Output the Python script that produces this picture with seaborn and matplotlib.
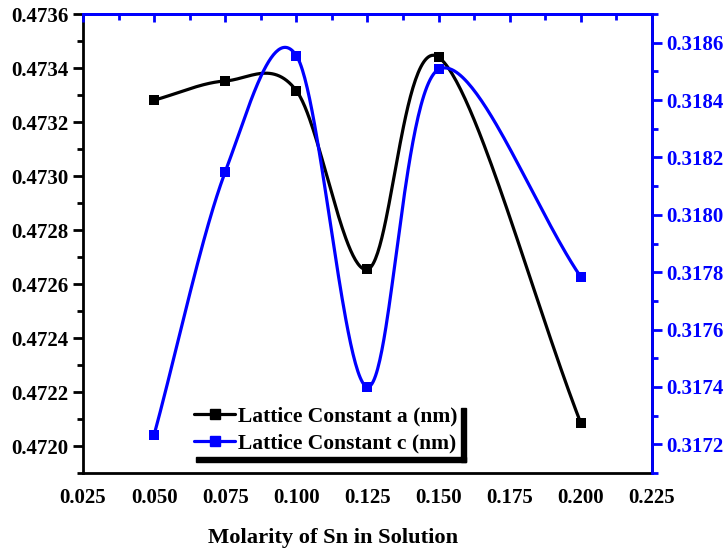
import numpy as np
import matplotlib
matplotlib.use("Agg")
import matplotlib.pyplot as plt
import seaborn as sns
from matplotlib.lines import Line2D
from matplotlib.patches import Rectangle
from matplotlib.ticker import MultipleLocator, FormatStrFormatter

molarity = [0.050, 0.075, 0.100, 0.125, 0.150, 0.200]
lattice_a = [0.473281, 0.473352, 0.473316, 0.472654, 0.473440, 0.472084]
lattice_c = [0.317233, 0.318150, 0.318555, 0.317400, 0.318507, 0.317783]
label_a = "Lattice Constant a (nm)"
label_c = "Lattice Constant c (nm)"
xlabel = "Molarity of Sn in Solution"

XLIM = (0.025, 0.225)
YLIM_A = (0.4719, 0.4736)
YLIM_C = (0.3171, 0.3187)
AX_W, AX_H = 569.0, 459.0


def smooth_curve(x, y, ylim, n=60):
    # Catmull-Rom style smooth connection drawn in screen space, mapped back to data
    u = (np.asarray(x, float) - XLIM[0]) / (XLIM[1] - XLIM[0]) * AX_W
    v = (np.asarray(y, float) - ylim[0]) / (ylim[1] - ylim[0]) * AX_H
    P = np.column_stack([u, v])
    k = len(P)
    m = np.zeros_like(P)
    m[0] = P[1] - P[0]
    m[-1] = P[-1] - P[-2]
    for i in range(1, k - 1):
        m[i] = (P[i + 1] - P[i - 1]) / 2
    s = np.linspace(0, 1, n)[:, None]
    h00 = 2 * s**3 - 3 * s**2 + 1
    h10 = s**3 - 2 * s**2 + s
    h01 = -2 * s**3 + 3 * s**2
    h11 = s**3 - s**2
    segs = [h00 * P[i] + h10 * m[i] + h01 * P[i + 1] + h11 * m[i + 1] for i in range(k - 1)]
    C = np.vstack(segs)
    xs = XLIM[0] + C[:, 0] / AX_W * (XLIM[1] - XLIM[0])
    ys = ylim[0] + C[:, 1] / AX_H * (ylim[1] - ylim[0])
    return xs, ys


sns.set_theme(style="white")
plt.rcParams["font.family"] = ["Liberation Serif", "DejaVu Serif"]
plt.rcParams["font.weight"] = "bold"
plt.rcParams["text.color"] = "black"
plt.rcParams["axes.labelcolor"] = "black"

fig = plt.figure(figsize=(7.28, 5.54), dpi=100)
ax = fig.add_axes([0.114, 0.1462, 0.7816, 0.8285])
ax2 = ax.twinx()

xa, ya = smooth_curve(molarity, lattice_a, YLIM_A)
ax.plot(xa, ya, color="black", lw=2.3, zorder=3)
sns.scatterplot(x=molarity, y=lattice_a, ax=ax, color="black", marker="s", s=60, edgecolor="black", linewidth=0, zorder=4)
xc, yc = smooth_curve(molarity, lattice_c, YLIM_C)
ax2.plot(xc, yc, color="#0000ff", lw=2.3, zorder=3)
sns.scatterplot(x=molarity, y=lattice_c, ax=ax2, color="#0000ff", marker="s", s=60, edgecolor="#0000ff", linewidth=0, zorder=4)

ax.set_xlim(*XLIM)
ax.set_ylim(*YLIM_A)
ax2.set_ylim(*YLIM_C)

ax.xaxis.set_major_locator(MultipleLocator(0.025))
ax.xaxis.set_minor_locator(MultipleLocator(0.0125))
ax.xaxis.set_major_formatter(FormatStrFormatter("%.3f"))
ax.yaxis.set_major_locator(MultipleLocator(0.0002))
ax.yaxis.set_minor_locator(MultipleLocator(0.0001))
ax.yaxis.set_major_formatter(FormatStrFormatter("%.4f"))
ax2.yaxis.set_major_locator(MultipleLocator(0.0002))
ax2.yaxis.set_minor_locator(MultipleLocator(0.0001))
ax2.yaxis.set_major_formatter(FormatStrFormatter("%.4f"))

for s in ax.spines.values():
    s.set_linewidth(2); s.set_color("black")
for name, s in ax2.spines.items():
    s.set_linewidth(2)
ax2.spines["right"].set_color("#0000ff")
ax2.spines["top"].set_color("#0000ff")
ax2.spines["left"].set_visible(False)
ax2.spines["bottom"].set_visible(False)

ax.tick_params(axis="both", which="major", direction="out", length=7, width=2, labelsize=15, color="black", labelcolor="black")
ax.tick_params(axis="both", which="minor", direction="out", length=4, width=2, color="black")
ax.tick_params(axis="x", which="both", top=False)
ax2.tick_params(axis="y", which="major", direction="out", length=7, width=2, labelsize=15, colors="#0000ff")
ax2.tick_params(axis="y", which="minor", direction="out", length=4, width=2, colors="#0000ff")
axt = ax2.secondary_xaxis("top")
axt.xaxis.set_major_locator(MultipleLocator(0.025))
axt.xaxis.set_minor_locator(MultipleLocator(0.0125))
axt.tick_params(which="major", direction="in", length=6, width=2, colors="#0000ff", labeltop=False)
axt.tick_params(which="minor", direction="in", length=4, width=2, colors="#0000ff")
axt.spines["top"].set_color("#0000ff"); axt.spines["top"].set_linewidth(2)

for lab in ax.get_xticklabels() + ax.get_yticklabels() + ax2.get_yticklabels():
    lab.set_fontweight("bold")

ax.set_xlabel(xlabel, fontsize=16.2, fontweight="bold", labelpad=12, color="black")
ax.xaxis.set_label_coords(0.44, -0.12)
ax.set_ylabel("")
ax2.set_ylabel("")

handles = [
    Line2D([], [], color="black", lw=2.3, marker="s", markersize=7),
    Line2D([], [], color="#0000ff", lw=2.3, marker="s", markersize=7),
]
leg = ax.legend(handles, [label_a, label_c], loc="lower left", bbox_to_anchor=(0.19, 0.035),
                frameon=True, fancybox=False, edgecolor="none", facecolor="white",
                prop={"family": "Liberation Serif", "weight": "bold", "size": 15.5},
                handlelength=1.9, handletextpad=0.15, labelspacing=0.35, borderpad=0.15,
                borderaxespad=0)
for t in leg.get_texts():
    t.set_color("black")
leg.set_zorder(10)

fig.canvas.draw()
bb = leg.get_window_extent()
off = 5
fig.patches.append(Rectangle((bb.x1, bb.y0 - off), off, bb.height, transform=None, color="black", zorder=9))
fig.patches.append(Rectangle((bb.x0 + off, bb.y0 - off), bb.width, off, transform=None, color="black", zorder=9))

fig.savefig("out.png", dpi=100)
